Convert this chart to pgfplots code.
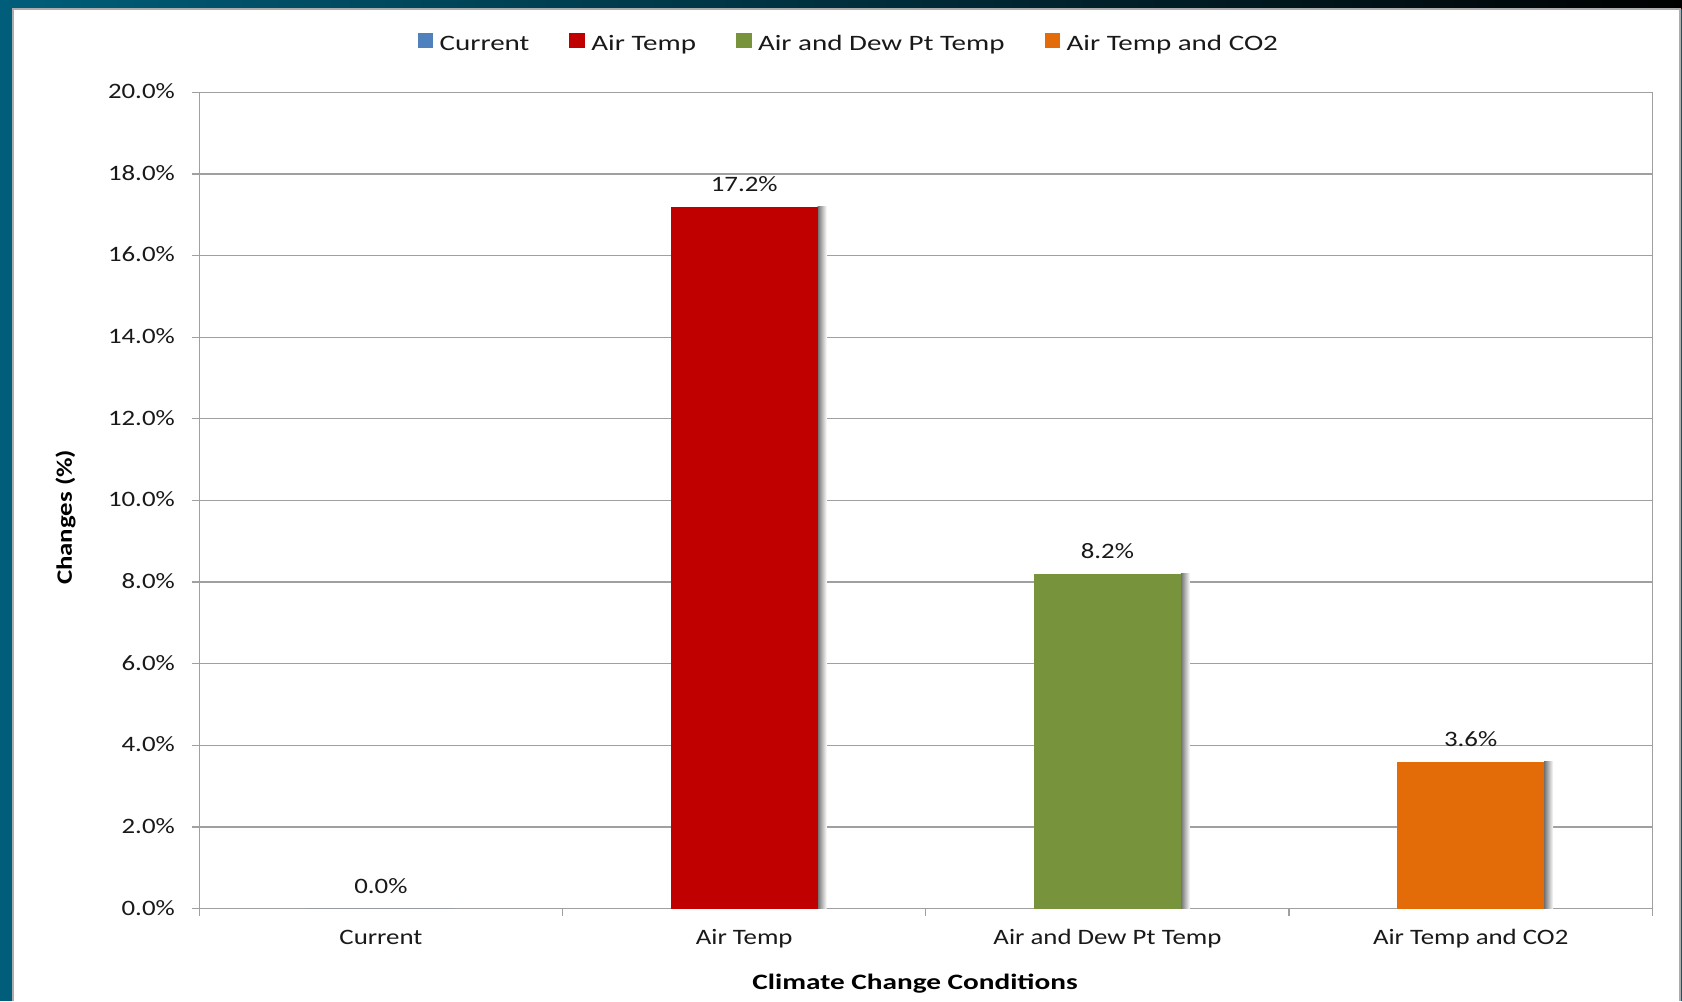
\documentclass[border=0pt]{standalone}
\usepackage{fontspec}
\setmainfont{Carlito}[FakeStretch=1.22]
\newfontfamily\legfont{Carlito}[FakeStretch=1.32]
\newfontfamily\xlabfont{Carlito}[FakeStretch=1.33]
\usepackage{pgfplots}
\pgfplotsset{compat=1.18}
\definecolor{tealc}{RGB}{0,94,122}
\definecolor{cblue}{RGB}{79,129,189}
\definecolor{cred}{RGB}{192,0,0}
\definecolor{cgreen}{RGB}{119,147,60}
\definecolor{corange}{RGB}{227,108,9}
\definecolor{gridc}{RGB}{160,160,160}
\definecolor{txt}{RGB}{25,25,25}
\pgfplotsset{
  sq legend/.style={legend image code/.code={\fill[##1] (0bp,-4.5bp) rectangle (15.5bp,11bp); \path (20bp,0bp);}},
  lbl/.style={nodes near coords={\pgfmathprintnumber[fixed,fixed zerofill,precision=1]{\pgfplotspointmeta}\%},
    every node near coord/.append style={font=\fontsize{22bp}{26bp}\selectfont, text=txt, inner sep=0pt, yshift=15bp}},
  shadowbar/.style={forget plot, bar shift=78bp, bar width=9bp, draw=none, left color=black!55, right color=white},
}
\begin{document}
\begin{tikzpicture}[x=1bp,y=1bp]
\fill[tealc] (0,0) rectangle (1682,1001);
\shade[left color=tealc, right color=black] (0,992) rectangle (1682,1001);
\fill[white] (13,0) rectangle (1680,992);
\draw[line width=1.5bp, color=gray!65] (13,0) -- (13,992) -- (1680,992) -- (1680,0);
\useasboundingbox (0,0) rectangle (1682,1001);
\begin{axis}[
  at={(199.3bp,92.3bp)}, anchor=south west,
  scale only axis, width=1453bp, height=816.4bp,
  xmin=-0.5, xmax=3.5, ymin=0, ymax=20,
  ybar, bar width=147bp,
  /pgf/number format/assume math mode=true,
  xtick={0,1,2,3},
  xticklabels={Current,Air Temp,Air and Dew Pt Temp,Air Temp and CO2},
  xtick pos=left, ytick pos=left,
  tick align=outside, major tick length=7.5bp,
  major x tick style={draw=none},
  extra x ticks={-0.5,0.5,1.5,2.5,3.5}, extra x tick labels={},
  extra x tick style={major x tick style={draw=gridc, line width=1.3bp}, grid=none},
  ytick={0,2,4,6,8,10,12,14,16,18,20},
  yticklabels={0.0\%,2.0\%,4.0\%,6.0\%,8.0\%,10.0\%,12.0\%,14.0\%,16.0\%,18.0\%,20.0\%},
  major y tick style={draw=gridc, line width=1.3bp},
  ymajorgrids, grid style={gridc, line width=1.3bp},
  axis line style={gridc, line width=1.5bp},
  tick label style={font=\fontsize{22bp}{26bp}\selectfont, text=txt},
  yticklabel style={anchor=mid east, inner sep=0pt, xshift=-16.8bp, yshift=-4bp},
  xticklabel style={anchor=base, inner sep=0pt, yshift=-27.8bp},
  xlabel={\xlabfont\bfseries Climate Change Conditions},
  xlabel style={at={(rel axis cs:0.4926,-0.0985)}, anchor=base, inner sep=0pt, font=\fontsize{22bp}{26bp}\selectfont, text=black},
  ylabel={\bfseries Changes (\%)},
  ylabel style={at={(rel axis cs:-0.099,0.4794)}, anchor=north, inner sep=0pt, font=\fontsize{22bp}{26bp}\selectfont, text=black},
  legend columns=4,
  legend style={at={(0.447,1.060)}, anchor=center, draw=none, fill=none,
    font=\legfont\fontsize{22bp}{26bp}\selectfont, text=txt,
    /tikz/every even column/.append style={column sep=38bp}},
]
\addplot[shadowbar] coordinates {(1,17.2)};
\addplot[shadowbar] coordinates {(2,8.2)};
\addplot[shadowbar] coordinates {(3,3.6)};
\addplot[bar shift=0pt, fill=cblue, draw=none, sq legend, lbl] coordinates {(0,0.0)};
\addplot[bar shift=0pt, fill=cred, draw=none, sq legend, lbl] coordinates {(1,17.2)};
\addplot[bar shift=0pt, fill=cgreen, draw=none, sq legend, lbl] coordinates {(2,8.2)};
\addplot[bar shift=0pt, fill=corange, draw=none, sq legend, lbl] coordinates {(3,3.6)};
\legend{Current,Air Temp,Air and Dew Pt Temp,Air Temp and CO2}
\end{axis}
\end{tikzpicture}
\end{document}
